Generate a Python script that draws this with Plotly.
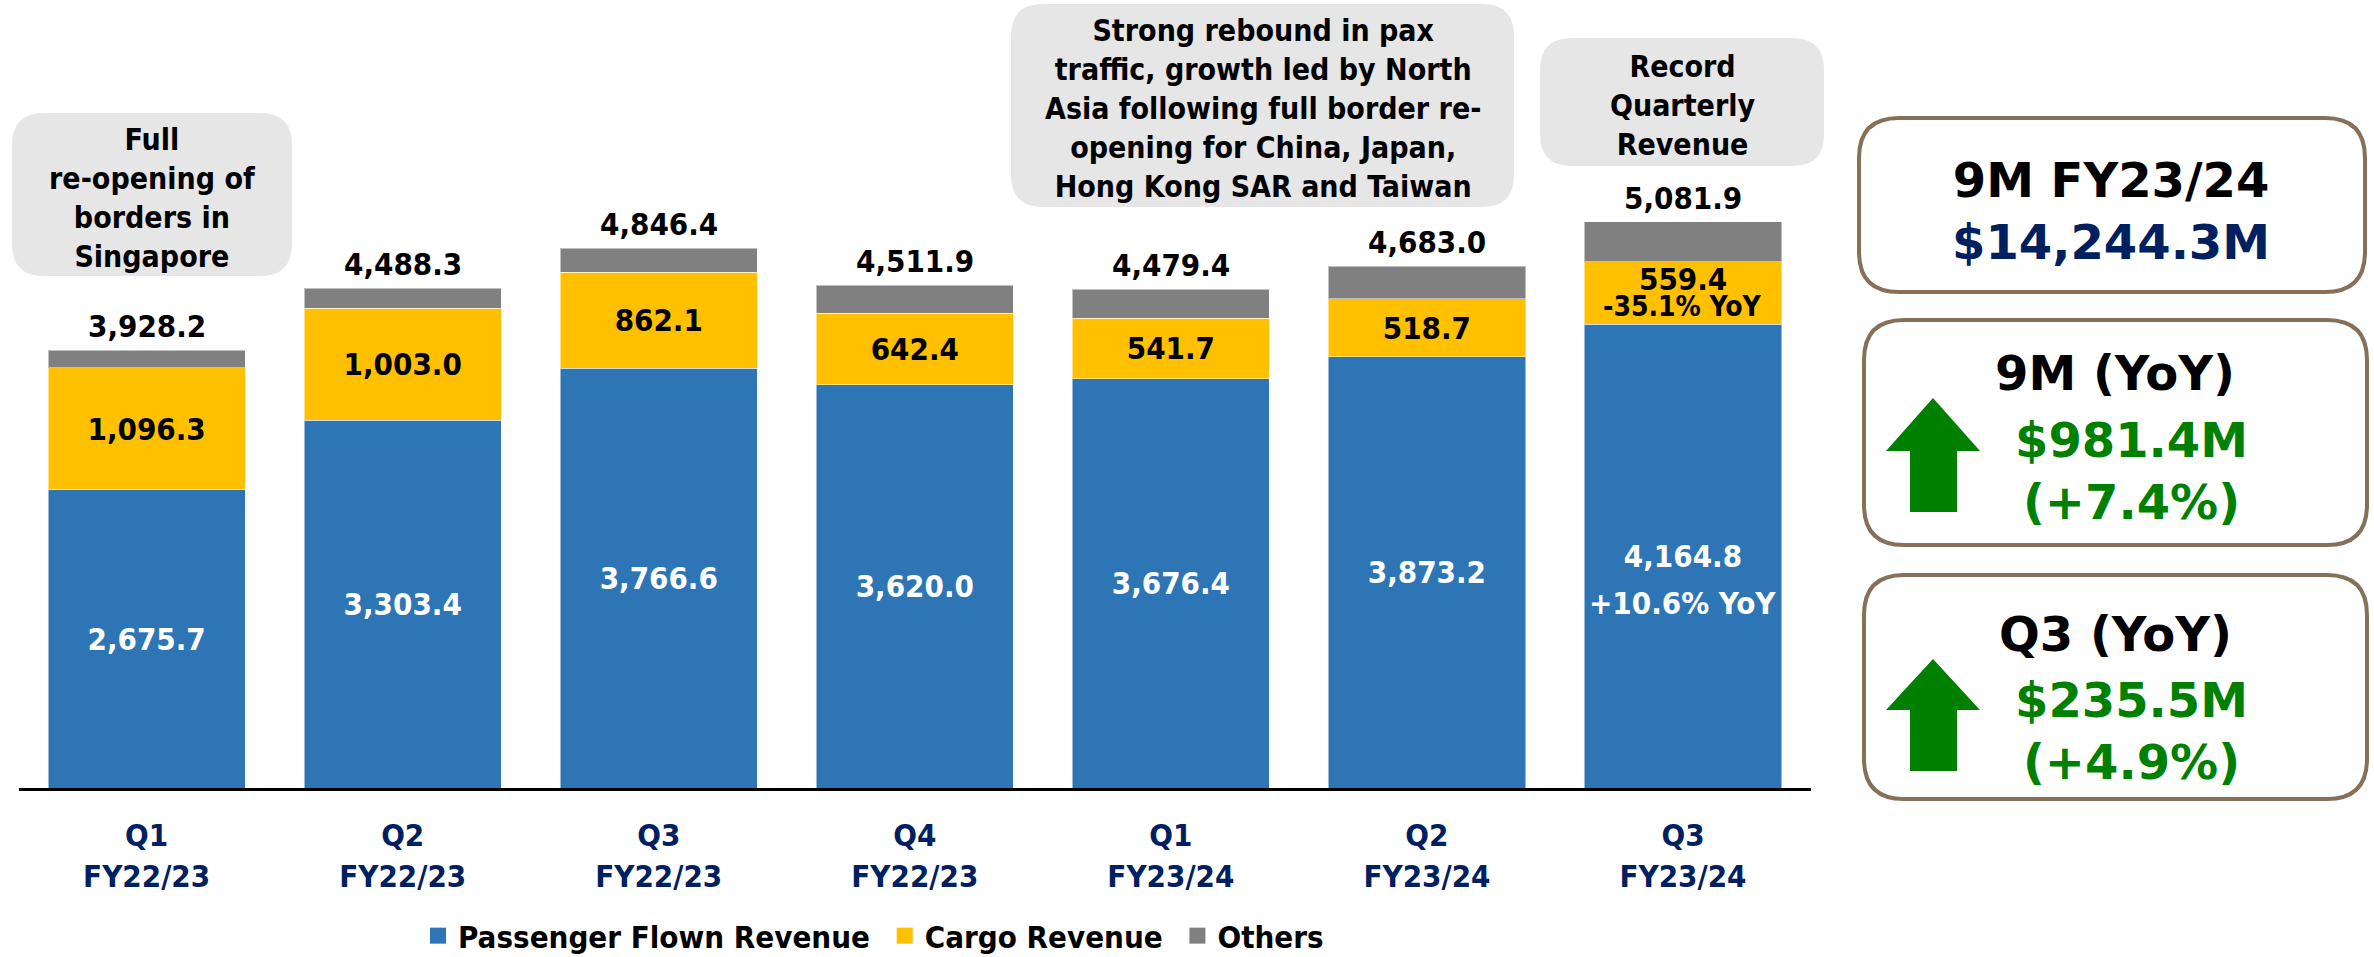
import plotly.graph_objects as go

# ---------------- data ----------------
quarters = ["Q1<br>FY22/23", "Q2<br>FY22/23", "Q3<br>FY22/23", "Q4<br>FY22/23",
            "Q1<br>FY23/24", "Q2<br>FY23/24", "Q3<br>FY23/24"]
passenger = [2675.7, 3303.4, 3766.6, 3620.0, 3676.4, 3873.2, 4164.8]
cargo = [1096.3, 1003.0, 862.1, 642.4, 541.7, 518.7, 559.4]
totals = [3928.2, 4488.3, 4846.4, 4511.9, 4479.4, 4683.0, 5081.9]
others = [round(t - p - c, 1) for t, p, c in zip(totals, passenger, cargo)]
passenger_yoy = "+10.6% YoY"
cargo_yoy = "-35.1% YoY"
series_names = ["Passenger Flown Revenue", "Cargo Revenue", "Others"]

callouts = [
    "Full<br>re-opening of<br>borders in<br>Singapore",
    "Strong rebound in pax<br>traffic, growth led by North<br>Asia following full border re-<br>opening for China, Japan,<br>Hong Kong SAR and Taiwan",
    "Record<br>Quarterly<br>Revenue",
]
kpi_titles = ["9M FY23/24", "9M (YoY)", "Q3 (YoY)"]
kpi_values = ["$14,244.3M", "$981.4M<br>(+7.4%)", "$235.5M<br>(+4.9%)"]

# ---------------- styling ----------------
W, H = 2374, 957
BLUE, YELLOW, GREY = "#2E75B6", "#FFC000", "#808080"
NAVY, GREEN, BROWN = "#002060", "#008000", "#86705A"
COND = "DejaVu Sans Condensed, Liberation Sans Narrow, sans-serif"
WIDE = "DejaVu Sans, Verdana, sans-serif"
FS = 31
colors = [BLUE, YELLOW, GREY]


def fmt(v):
    return f"{v:,.1f}"


def X(px):
    return px / W


def Y(py):
    return 1 - py / H


def rrect(x0, y0, x1, y1, r):
    return (f"M{X(x0 + r)},{Y(y0)} L{X(x1 - r)},{Y(y0)} Q{X(x1)},{Y(y0)} {X(x1)},{Y(y0 + r)} "
            f"L{X(x1)},{Y(y1 - r)} Q{X(x1)},{Y(y1)} {X(x1 - r)},{Y(y1)} "
            f"L{X(x0 + r)},{Y(y1)} Q{X(x0)},{Y(y1)} {X(x0)},{Y(y1 - r)} "
            f"L{X(x0)},{Y(y0 + r)} Q{X(x0)},{Y(y0)} {X(x0 + r)},{Y(y0)} Z")


def arrow(xl, xr, sl, sr, tip, base, bottom):
    cx = (xl + xr) / 2
    pts = [(cx, tip), (xr, base), (sr, base), (sr, bottom), (sl, bottom), (sl, base), (xl, base)]
    return "M" + " L".join(f"{X(a)},{Y(b)}" for a, b in pts) + " Z"


p_text = [fmt(v) for v in passenger]
c_text = [fmt(v) for v in cargo]
c_text[-1] = ""

fig = go.Figure()
common = dict(textposition="inside", insidetextanchor="middle", textangle=0,
              constraintext="none", marker_line=dict(width=1, color="rgba(255,255,255,0.5)"),
              hoverinfo="skip", showlegend=False)
fig.add_trace(go.Bar(x=quarters, y=passenger, name=series_names[0],
                     marker_color=BLUE, text=p_text,
                     textfont=dict(family=COND, size=FS, color="white", weight="bold"), **common))
fig.add_trace(go.Bar(x=quarters, y=cargo, name=series_names[1],
                     marker_color=YELLOW, text=c_text,
                     textfont=dict(family=COND, size=FS, color="black", weight="bold"), **common))
fig.add_trace(go.Bar(x=quarters, y=others, name=series_names[2], marker_color=GREY, **common))

# legend entries with larger square swatches
pad = "\u00a0"
for i, (nm, col) in enumerate(zip(series_names, colors)):
    fig.add_trace(go.Scatter(x=[None], y=[None], mode="markers", name=nm + (pad if i < 2 else ""),
                             marker=dict(symbol="square", size=18, color=col),
                             showlegend=True, hoverinfo="skip"))

ann = []
# totals above bars
for q, t in zip(quarters, totals):
    ann.append(dict(x=q, y=t, xref="x", yref="y", text=fmt(t), showarrow=False,
                    yanchor="middle", yshift=24,
                    font=dict(family=COND, size=FS, color="black", weight="bold")))
# last-bar extras
ann.append(dict(x=quarters[-1], y=passenger[-1] / 2, xref="x", yref="y", text=passenger_yoy,
                showarrow=False, yanchor="middle", yshift=-47,
                font=dict(family=COND, size=FS, color="white", weight="bold")))
ann.append(dict(x=quarters[-1], y=passenger[-1] + cargo[-1] / 2, xref="x", yref="y",
                text=fmt(cargo[-1]), showarrow=False, yanchor="middle", yshift=14,
                font=dict(family=COND, size=FS, color="black", weight="bold")))
ann.append(dict(x=quarters[-1], y=passenger[-1] + cargo[-1] / 2, xref="x", yref="y",
                text=cargo_yoy, showarrow=False, yanchor="middle", yshift=-14,
                font=dict(family=COND, size=28, color="black", weight="bold")))

shapes = []
# grey callout boxes
boxes = [(12, 113, 292, 276), (1011, 4, 1514, 207), (1540, 38, 1824, 166)]
for (x0, y0, x1, y1), txt in zip(boxes, callouts):
    shapes.append(dict(type="path", xref="paper", yref="paper", path=rrect(x0, y0, x1, y1, 32),
                       fillcolor="#E6E6E6", line=dict(width=0), layer="above"))
    ann.append(dict(x=X((x0 + x1) / 2), y=Y((y0 + y1) / 2 + 3), xref="paper", yref="paper",
                    text=txt, showarrow=False, xanchor="center", yanchor="middle",
                    font=dict(family=COND, size=30, color="black", weight="bold")))

# KPI boxes on the right
kboxes = [(1859, 118, 2365, 292), (1864, 320, 2367, 545), (1864, 575, 2367, 799)]
for (x0, y0, x1, y1) in kboxes:
    shapes.append(dict(type="path", xref="paper", yref="paper", path=rrect(x0, y0, x1, y1, 40),
                       fillcolor="white", line=dict(width=4, color=BROWN), layer="above"))

ann.append(dict(x=X(2111), y=Y(211), xref="paper", yref="paper",
                text=f"{kpi_titles[0]}<br><span style='color:{NAVY}'>{kpi_values[0]}</span>",
                showarrow=False, xanchor="center", yanchor="middle",
                font=dict(family=WIDE, size=48, color="black", weight="bold")))
for i, (ty, vy) in enumerate([(373, 471), (634, 731)], start=1):
    ann.append(dict(x=X(2115), y=Y(ty), xref="paper", yref="paper", text=kpi_titles[i],
                    showarrow=False, xanchor="center", yanchor="middle",
                    font=dict(family=WIDE, size=48, color="black", weight="bold")))
    ann.append(dict(x=X(2131), y=Y(vy), xref="paper", yref="paper", text=kpi_values[i],
                    showarrow=False, xanchor="center", yanchor="middle",
                    font=dict(family=WIDE, size=48, color=GREEN, weight="bold")))

for tip, base, bottom in [(398, 451, 512), (659, 710, 771)]:
    shapes.append(dict(type="path", xref="paper", yref="paper",
                       path=arrow(1886, 1980, 1910, 1957, tip, base, bottom),
                       fillcolor=GREEN, line=dict(width=0), layer="above"))

fig.update_layout(
    width=W, height=H, autosize=False,
    margin=dict(l=0, r=0, t=0, b=0, autoexpand=False),
    paper_bgcolor="white", plot_bgcolor="white",
    barmode="stack", bargap=0.23,
    xaxis=dict(domain=[X(18.6), X(1811)], type="category", range=[-0.5, 6.5],
               showline=True, linecolor="black", linewidth=3, ticks="",
               showgrid=False, zeroline=False, automargin=False, ticklabelstandoff=18,
               tickfont=dict(family=COND, size=FS, color=NAVY, weight="bold")),
    yaxis=dict(domain=[1 - 788 / H, 1], range=[0, 788 / 0.11138], visible=False,
               showgrid=False, zeroline=False, automargin=False),
    legend=dict(orientation="h", x=X(418), y=Y(936), xanchor="left", yanchor="middle",
                font=dict(family=COND, size=31, color="black", weight="bold"),
                bgcolor="rgba(0,0,0,0)", traceorder="normal", itemsizing="trace"),
    shapes=shapes, annotations=ann,
)

fig.write_html("out.html", config={"displayModeBar": False},
               post_script="document.body.style.margin='0';document.body.style.overflow='hidden';")
